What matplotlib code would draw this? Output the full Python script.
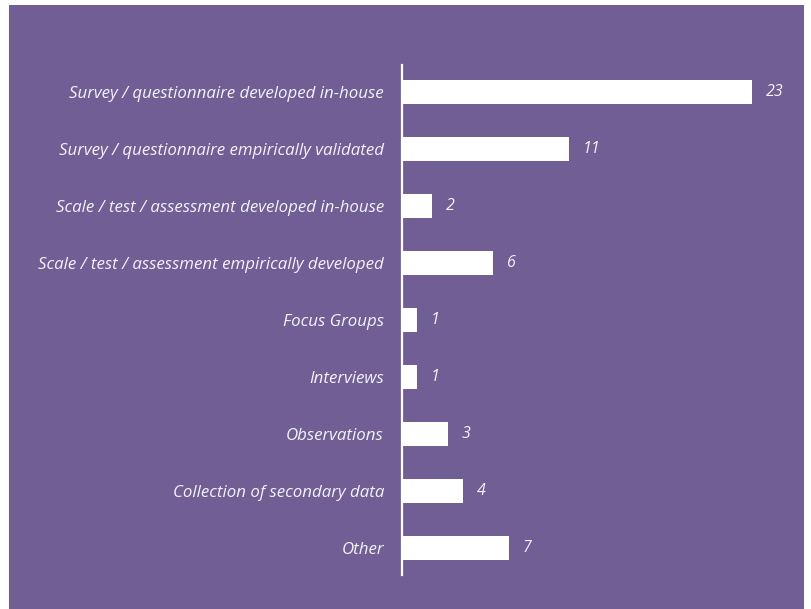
import matplotlib.pyplot as plt
from matplotlib.patches import Rectangle

categories = [
    "Survey / questionnaire developed in-house",
    "Survey / questionnaire empirically validated",
    "Scale / test / assessment developed in-house",
    "Scale / test / assessment empirically developed",
    "Focus Groups",
    "Interviews",
    "Observations",
    "Collection of secondary data",
    "Other",
]
counts = [23, 11, 2, 6, 1, 1, 3, 4, 7]

PURPLE = "#715E95"
TEXT = "#F4F2F8"

plt.rcParams["font.family"] = ["Open Sans", "DejaVu Sans"]

fig = plt.figure(figsize=(8.11, 6.09), dpi=100, facecolor="white")
fig.patches.append(Rectangle((9 / 811, 0), 795 / 811, 604 / 609,
                             transform=fig.transFigure, facecolor=PURPLE,
                             edgecolor="none", zorder=-1))

ax = fig.add_axes([402 / 811, 34 / 609, 398 / 811, 510 / 609])
ax.set_facecolor("none")
ax.set_zorder(2)

y = list(range(len(categories)))
ax.barh(y, counts, height=0.42, color="white")
ax.set_ylim(len(categories) - 0.53, -0.47)
ax.set_xlim(0, 23 * 398 / 350)

for yi, v in zip(y, counts):
    ax.text(v + 0.9, yi, str(v), va="center", ha="left", color=TEXT,
            fontsize=11.5, style="italic")

ax.set_yticks(y)
ax.set_yticklabels(categories, fontsize=12.2, style="italic", color=TEXT)
ax.tick_params(axis="y", length=0, pad=13)
ax.set_xticks([])
for side in ["top", "right", "bottom"]:
    ax.spines[side].set_visible(False)
ax.spines["left"].set_color("white")
ax.spines["left"].set_linewidth(1.6)

fig.savefig("out.png", dpi=100, facecolor="white")
